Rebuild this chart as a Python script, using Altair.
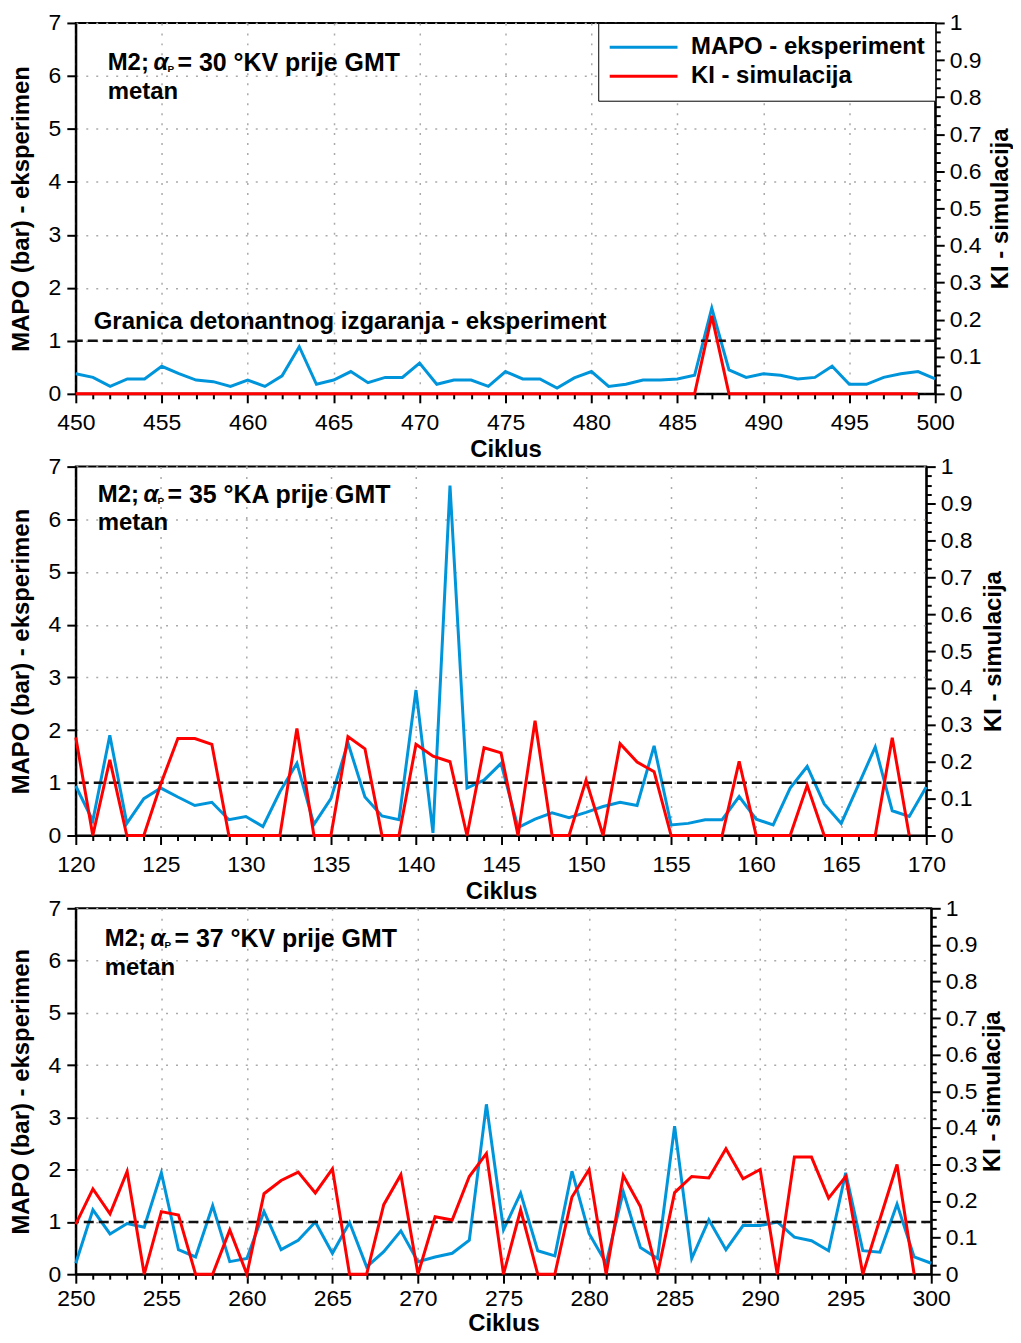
import altair as alt
import pandas as pd

FONT = "Liberation Sans"
BLUE = "#0095DA"
RED = "#FF0000"

# ---------------- data ----------------
cyc1 = list(range(450, 501))
mapo1 = [0.38, 0.31, 0.14, 0.28, 0.28, 0.52, 0.38, 0.26, 0.23, 0.14,
         0.26, 0.14, 0.34, 0.89, 0.18, 0.26, 0.42, 0.21, 0.31, 0.31,
         0.58, 0.18, 0.26, 0.26, 0.14, 0.42, 0.28, 0.28, 0.11, 0.30,
         0.42, 0.14, 0.18, 0.26, 0.26, 0.28, 0.35, 1.62, 0.45, 0.31,
         0.38, 0.35, 0.28, 0.31, 0.52, 0.18, 0.18, 0.31, 0.38, 0.42, 0.28]
ki_cyc1 = list(range(450, 500))
ki1 = [0, 0, 0, 0, 0, 0, 0, 0, 0, 0,
       0, 0, 0, 0, 0, 0, 0, 0, 0, 0,
       0, 0, 0, 0, 0, 0, 0, 0, 0, 0,
       0, 0, 0, 0, 0, 0, 0, 0.21, 0, 0,
       0, 0, 0, 0, 0, 0, 0, 0, 0, 0]

cyc2 = list(range(120, 171))
mapo2 = [0.94, 0.28, 1.90, 0.23, 0.70, 0.90, 0.73, 0.57, 0.63, 0.30,
         0.36, 0.17, 0.83, 1.37, 0.21, 0.70, 1.76, 0.73, 0.37, 0.30,
         2.76, 0.05, 6.64, 0.90, 1.05, 1.37, 0.15, 0.31, 0.43, 0.34,
         0.44, 0.55, 0.63, 0.57, 1.70, 0.20, 0.23, 0.30, 0.30, 0.74,
         0.31, 0.20, 0.90, 1.31, 0.60, 0.23, 0.95, 1.68, 0.47, 0.36, 0.92]
ki_cyc2 = list(range(120, 170))
ki2 = [0.266, 0, 0.205, 0, 0, 0.14, 0.263, 0.263, 0.247, 0,
       0, 0, 0, 0.29, 0, 0, 0.268, 0.235, 0, 0,
       0.247, 0.215, 0.20, 0, 0.238, 0.224, 0, 0.311, 0, 0,
       0.15, 0, 0.249, 0.199, 0.173, 0, 0, 0, 0, 0.201,
       0, 0, 0, 0.136, 0, 0, 0, 0, 0.265, 0]

cyc3 = list(range(250, 301))
mapo3 = [0.21, 1.23, 0.77, 0.97, 0.90, 1.94, 0.47, 0.33, 1.31, 0.24,
         0.30, 1.20, 0.47, 0.65, 1.00, 0.40, 0.99, 0.14, 0.43, 0.83,
         0.24, 0.33, 0.40, 0.65, 3.25, 0.85, 1.55, 0.45, 0.35, 1.97,
         0.78, 0.21, 1.58, 0.51, 0.30, 2.83, 0.30, 1.04, 0.47, 0.93,
         0.93, 1.00, 0.71, 0.64, 0.45, 1.94, 0.45, 0.42, 1.34, 0.33, 0.21]
ki_cyc3 = list(range(250, 300))
ki3 = [0.137, 0.233, 0.165, 0.281, 0, 0.171, 0.162, 0, 0, 0.121,
       0, 0.220, 0.256, 0.279, 0.222, 0.288, 0, 0, 0.19, 0.272,
       0, 0.157, 0.148, 0.267, 0.33, 0, 0.176, 0, 0, 0.211,
       0.286, 0, 0.27, 0.185, 0, 0.223, 0.267, 0.263, 0.343, 0.261,
       0.286, 0, 0.32, 0.32, 0.208, 0.267, 0, 0.15, 0.30, 0]

angle_labels = ["= 30 °KV prije GMT", "= 35 °KA prije GMT", "= 37 °KV prije GMT"]
series_names = ["MAPO - eksperiment", "KI - simulacija"]
threshold = 1.0
left_title = "MAPO (bar) - eksperimen"
right_title = "KI - simulacija"
x_title = "Ciklus"
limit_text = "Granica detonantnog izgaranja - eksperiment"

one = pd.DataFrame({"a": [0]})


def txt(text, x, y, size=24, style="normal", weight="bold"):
    return alt.Chart(one).mark_text(
        text=text, font=FONT, fontSize=size, fontWeight=weight, fontStyle=style,
        align="left", baseline="middle", color="black"
    ).encode(x=alt.value(x), y=alt.value(y))


def panel(cyc, mapo, ki_cyc, ki, k, width, height, ax, ay, rt_pad,
          lab_pad=9, tit_pad=3, show_legend=False, show_limit=False):
    x0, x1 = cyc[0], cyc[-1]
    df_m = pd.DataFrame({"c": cyc, "v": mapo, "s": series_names[0]})
    df_k = pd.DataFrame({"c": ki_cyc, "v": ki, "s": series_names[1]})

    xvals = list(range(x0, x1 + 1))
    xcond = "datum.value % 5 === 0"
    xaxis = alt.Axis(
        values=xvals, title=x_title,
        labelExpr=f"{xcond} ? format(datum.value, 'd') : ''",
        tickSize={"condition": {"test": xcond, "value": 9}, "value": 5},
        gridOpacity={"condition": {"test": xcond, "value": 1}, "value": 0},
        grid=True, labelFlush=False, labelPadding=lab_pad, titlePadding=tit_pad,
    )
    xenc = alt.X("c:Q", scale=alt.Scale(domain=[x0, x1], nice=False, zero=False), axis=xaxis)

    lvals = [round(i * 0.25, 3) for i in range(29)]
    lcond = "abs(datum.value - round(datum.value)) < 0.001"
    laxis = alt.Axis(
        values=lvals, title=left_title, orient="left",
        labelExpr=f"{lcond} ? format(datum.value, 'd') : ''",
        tickSize={"condition": {"test": lcond, "value": 9}, "value": 5},
        gridOpacity={"condition": {"test": lcond, "value": 1}, "value": 0},
        grid=True, labelFlush=False, labelPadding=6, titlePadding=15,
    )
    lscale = alt.Scale(domain=[0, 7], nice=False)

    rvals = [round(i * 0.025, 4) for i in range(41)]
    rcond = "abs(datum.value * 10 - round(datum.value * 10)) < 0.001"
    raxis = alt.Axis(
        values=rvals, title=right_title, orient="right",
        labelExpr=f"{rcond} ? format(datum.value, '~g') : ''",
        tickSize={"condition": {"test": rcond, "value": 9}, "value": 5},
        grid=False, labelFlush=False, labelPadding=5, titlePadding=rt_pad,
        titleAngle=270, titleBaseline="top",
    )
    rscale = alt.Scale(domain=[0, 1], nice=False)

    cscale = alt.Scale(domain=series_names, range=[BLUE, RED])
    if show_legend:
        leg = alt.Legend(
            title=None, orient="top-right", offset=0, fillColor="white",
            strokeColor="black", padding=10, labelFont=FONT, labelFontSize=24,
            labelFontWeight="bold", labelColor="black", labelLimit=400,
            symbolType="stroke", symbolSize=4624, symbolStrokeWidth=3,
            labelOffset=12, clipHeight=29, rowPadding=0, cornerRadius=0,
        )
    else:
        leg = None

    blue = alt.Chart(df_m).mark_line(strokeWidth=3).encode(
        x=xenc,
        y=alt.Y("v:Q", scale=lscale, axis=laxis),
        color=alt.Color("s:N", scale=cscale, legend=leg),
    )
    rule = alt.Chart(one).mark_rule(color="#111111", strokeWidth=2.5, strokeDash=[10, 5]).encode(
        y=alt.YDatum(threshold, type="quantitative")
    )
    label_layers = [
        txt("M2;", ax, ay),
        txt("α", ax + 46, ay, style="italic"),
        txt("P", ax + 60, ay + 6, size=10),
        txt(angle_labels[k], ax + 70, ay, size=25),
        txt("metan", ax, ay + 29),
    ]
    if show_limit:
        label_layers.append(txt(limit_text, 18, 300))
    left = alt.layer(blue, rule, *label_layers)

    red = alt.Chart(df_k).mark_line(strokeWidth=3).encode(
        x=xenc,
        y=alt.Y("v:Q", scale=rscale, axis=raxis),
        color=alt.Color("s:N", scale=cscale, legend=leg),
    )
    return alt.layer(left, red).resolve_scale(y="independent").properties(
        width=width, height=height
    )


p1 = panel(cyc1, mapo1, ki_cyc1, ki1, 0, 862, 372, 32, 40, 8,
           show_legend=True, show_limit=True)
p2 = panel(cyc2, mapo2, ki_cyc2, ki2, 1, 853, 370, 22, 28, 9)
p3 = panel(cyc3, mapo3, ki_cyc3, ki3, 2, 858, 367, 29, 31, 3,
           lab_pad=4, tit_pad=1)

chart = alt.vconcat(p1, p2, p3, spacing=73, bounds="flush").resolve_scale(
    color="independent"
).properties(
    padding={"top": 1, "left": 0, "right": -1, "bottom": -2}
).configure_view(
    stroke="black", strokeWidth=2
).configure_axis(
    domainColor="black", domainWidth=2, tickColor="black", tickWidth=2,
    labelFont=FONT, labelFontSize=23, labelColor="black",
    titleFont=FONT, titleFontSize=24, titleFontWeight="bold", titleColor="black",
    gridColor="#aaaaaa", gridDash=[2, 8], gridWidth=1.5,
)

chart.save("out.html", embed_options={"renderer": "svg", "actions": False})
